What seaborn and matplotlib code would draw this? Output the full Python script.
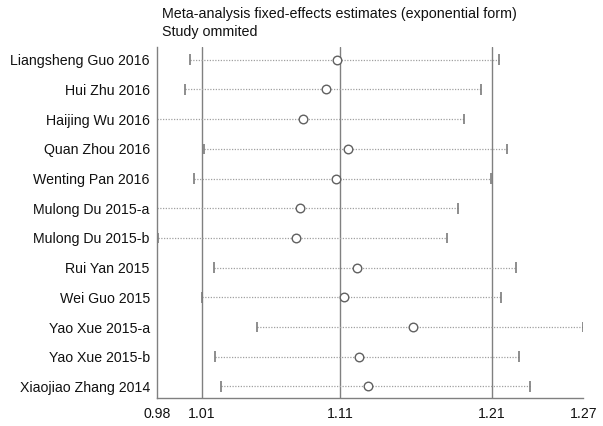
import numpy as np
import pandas as pd
import matplotlib
matplotlib.use("Agg")
import matplotlib.pyplot as plt
import seaborn as sns

# Influence analysis: pooled estimate with each study omitted in turn
studies = [
    "Liangsheng Guo 2016", "Hui Zhu 2016", "Haijing Wu 2016", "Quan Zhou 2016",
    "Wenting Pan 2016", "Mulong Du 2015-a", "Mulong Du 2015-b", "Rui Yan 2015",
    "Wei Guo 2015", "Yao Xue 2015-a", "Yao Xue 2015-b", "Xiaojiao Zhang 2014",
]
estimate = [1.1035, 1.0960, 1.0802, 1.1112, 1.1028, 1.0782,
            1.0752, 1.1174, 1.1083, 1.1553, 1.1188, 1.1247]
lower = [1.0030, 0.9994, 0.9800, 1.0126, 1.0053, 0.9805,
         0.9809, 1.0190, 1.0108, 1.0485, 1.0197, 1.0240]
upper = [1.2145, 1.2019, 1.1905, 1.2199, 1.2090, 1.1866,
         1.1791, 1.2259, 1.2158, 1.2722, 1.2284, 1.2355]

# Overall fixed-effects estimate and its confidence limits
overall = [1.0108, 1.1058, 1.2097]
tick_values = [0.98, 1.0108, 1.1058, 1.2097, 1.2722]
tick_labels = ["0.98", "1.01", "1.11", "1.21", "1.27"]

df = pd.DataFrame({"study": studies, "est": estimate, "lo": lower, "hi": upper})
df["row"] = np.arange(len(df))

sns.set_theme(style="white")
plt.rcParams["font.family"] = ["Liberation Sans", "DejaVu Sans"]

fig = plt.figure(figsize=(6.03, 4.26), dpi=100)
ax = fig.add_axes([0.2599, 0.065, 0.7075, 0.8254])

line_grey = "#808080"

# reference lines for the overall estimate and its CI
for v in overall:
    ax.axvline(v, color=line_grey, lw=1.0, zorder=1)

# confidence intervals: dotted bars with solid end caps
ax.hlines(df["row"], df["lo"], df["hi"], colors="#a0a0a0",
          linestyles=(0, (1, 1.2)), lw=0.9, zorder=2)
cap = 0.18
ax.vlines(df["lo"], df["row"] - cap, df["row"] + cap, colors="#7a7a7a", lw=1.2, zorder=2)
ax.vlines(df["hi"], df["row"] - cap, df["row"] + cap, colors="#7a7a7a", lw=1.2, zorder=2)

# point estimates
sns.scatterplot(data=df, x="est", y="row", ax=ax, s=38, marker="o",
                facecolor="white", edgecolor="#606060", linewidth=1.0,
                zorder=3, legend=False)

ax.set_xlim(min(lower), max(upper))
ax.set_ylim(len(df) - 0.6, -0.44)

ax.set_yticks(df["row"])
ax.set_yticklabels(df["study"], fontsize=10.2, color="#111111")
ax.set_xticks(tick_values)
ax.set_xticklabels(tick_labels, fontsize=10.2, color="#111111")
ax.tick_params(axis="y", length=0, pad=5)
ax.tick_params(axis="x", length=4, width=1, color=line_grey, pad=2, direction="out")
ax.set_xlabel("")
ax.set_ylabel("")

for side in ["top", "right"]:
    ax.spines[side].set_visible(False)
for side in ["left", "bottom"]:
    ax.spines[side].set_color(line_grey)
    ax.spines[side].set_linewidth(1.0)

fig.text(0.2687, 0.967, "Meta-analysis fixed-effects estimates (exponential form)",
         fontsize=10.3, va="center", ha="left", color="#111111")
fig.text(0.2687, 0.924, "Study ommited", fontsize=10.3, va="center", ha="left",
         color="#111111")

fig.savefig("out.png", dpi=100)
